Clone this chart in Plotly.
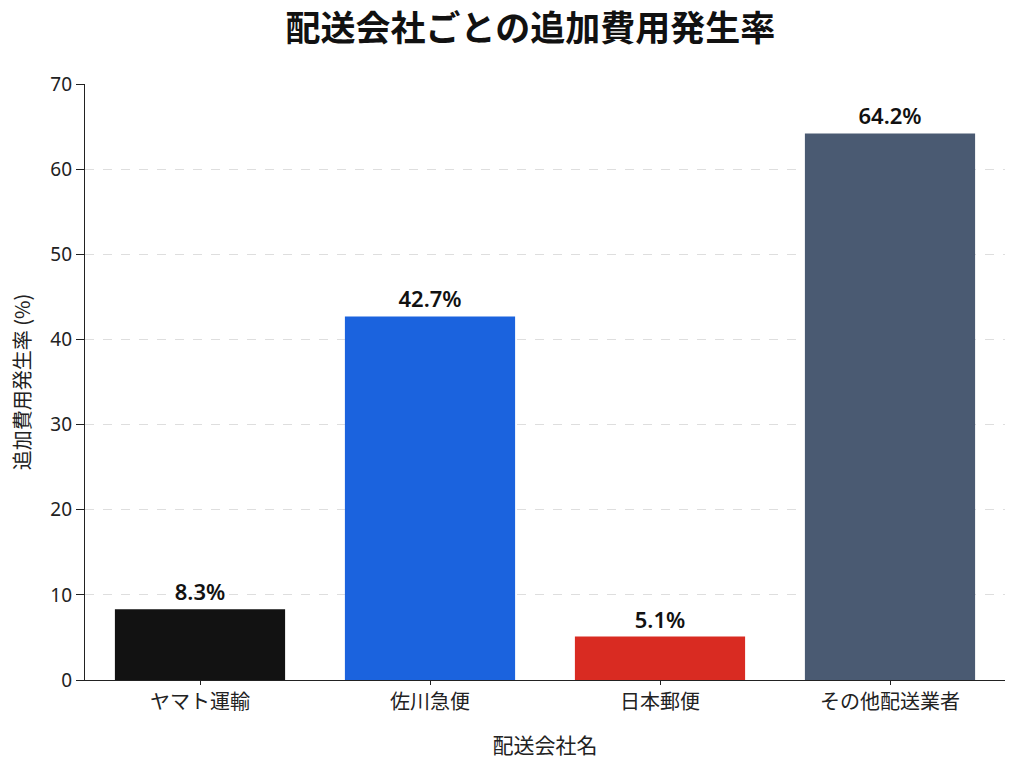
import plotly.graph_objects as go

categories = ["ヤマト運輸", "佐川急便", "日本郵便", "その他配送業者"]
rates = [8.3, 42.7, 5.1, 64.2]
labels = ["8.3%", "42.7%", "5.1%", "64.2%"]
colors = ["#121212", "#1b63de", "#d92b22", "#4a5a72"]
y_ticks = [0, 10, 20, 30, 40, 50, 60, 70]

font_family = "Noto Sans, Noto Sans CJK JP, sans-serif"

fig = go.Figure(
    go.Bar(
        x=categories,
        y=rates,
        marker=dict(color=colors, line=dict(width=0)),
        width=0.74,
        text=labels,
        textposition="outside",
        textfont=dict(size=22, color="#111111", family="Noto Sans", weight=600),
        cliponaxis=False,
    )
)

fig.update_layout(
    width=1024,
    height=768,
    margin=dict(l=85, r=19, t=84, b=88),
    paper_bgcolor="white",
    plot_bgcolor="white",
    font=dict(family=font_family, color="#222222"),
    title=dict(
        text="<b>配送会社ごとの追加費用発生率</b>",
        x=0.518,
        xanchor="center",
        y=0.962,
        yanchor="middle",
        font=dict(size=35, color="#111111", family="Noto Sans CJK JP"),
    ),
    showlegend=False,
)

fig.update_xaxes(
    title=dict(text="配送会社名", font=dict(size=21, color="#222222", family="Noto Sans CJK JP"), standoff=24),
    tickfont=dict(size=20, color="#222222", family="Noto Sans CJK JP"),
    showline=True,
    linecolor="#222222",
    linewidth=1.2,
    ticks="outside",
    ticklen=4,
    tickcolor="#222222",
    showgrid=False,
)

fig.update_yaxes(
    title=dict(text="追加費用発生率 (%)", font=dict(size=20, color="#222222", family="Noto Sans CJK JP"), standoff=14),
    tickfont=dict(size=19, color="#222222", family="Noto Sans"),
    range=[0, 70],
    tickvals=y_ticks,
    showline=True,
    linecolor="#222222",
    linewidth=1.2,
    ticks="outside",
    ticklen=8,
    tickcolor="#222222",
    showgrid=True,
    gridcolor="#dedede",
    griddash="dash",
    gridwidth=1,
    zeroline=False,
)

fig.write_html("out.html")
